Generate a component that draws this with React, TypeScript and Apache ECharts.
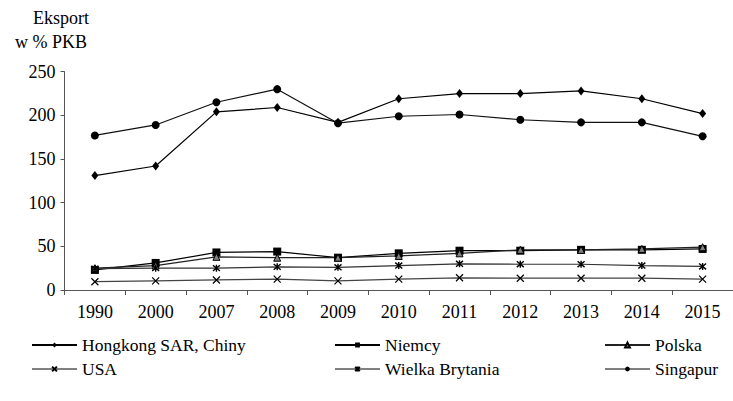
import React, { useEffect, useRef } from "react";
import * as echarts from "echarts";

const years = ["1990", "2000", "2007", "2008", "2009", "2010", "2011", "2012", "2013", "2014", "2015"];
const hongkong = [131, 142, 204, 209, 192, 219, 225, 225, 228, 219, 202];
const niemcy = [23, 31, 43, 44, 37, 42, 45, 45, 46, 46, 47];
const polska = [25, 28, 38, 37, 37, 39, 42, 46, 46, 47, 49];
const usa = [9.5, 10.5, 11.5, 12.5, 10.5, 12.5, 14, 13.5, 13.5, 13.5, 12.5];
const wielkaBrytania = [24.5, 25, 25, 26.5, 26, 28, 30, 29.5, 29.5, 28, 27];
const singapur = [177, 189, 215, 230, 191, 199, 201, 195, 192, 192, 176];
const yTicks = { min: 0, max: 250, interval: 50 };

const FONT = "Liberation Serif";
const AXIS_FS = 18;
const LEG_FS = 17.5;
const X_PATH = "path://M0,0L10,10M10,0L0,10";
const AST_PATH = "path://M0,0L10,10M10,0L0,10M5,-1L5,11";

export default function App() {
  const ref = useRef<HTMLDivElement>(null);
  useEffect(() => {
    if (!ref.current) return;
    const chart = echarts.init(ref.current, undefined, { renderer: "svg" });
    const mk = (name: string, data: number[], symbol: string, size: number | number[], item: any, lineColor: string) => ({
      name,
      type: "line",
      data,
      symbol,
      symbolSize: size,
      showAllSymbol: true,
      itemStyle: item,
      lineStyle: { color: lineColor, width: 1.2 },
      emphasis: { disabled: true },
    });
    const legendBase = {
      orient: "vertical",
      top: 331,
      itemGap: 6,
      itemWidth: 45,
      itemHeight: 6,
      textStyle: { fontFamily: FONT, fontSize: LEG_FS, color: "#000" },
      selectedMode: false,
    };
    const gray = { lineStyle: { color: "#808080" } };
    chart.setOption({
      animation: false,
      backgroundColor: "#fff",
      textStyle: { fontFamily: FONT },
      grid: { left: 64.5, top: 71.7, width: 673.5, height: 218.3 },
      graphic: [
        { type: "text", left: 33, top: 9, style: { text: "Eksport", fontFamily: FONT, fontSize: AXIS_FS, fill: "#000" } },
        { type: "text", left: 15, top: 33, style: { text: "w % PKB", fontFamily: FONT, fontSize: AXIS_FS, fill: "#000" } },
      ],
      legend: [
        { ...legendBase, left: 26, data: ["Hongkong SAR, Chiny", { name: "USA", ...gray }] },
        { ...legendBase, left: 329, data: ["Niemcy", { name: "Wielka Brytania", ...gray }] },
        { ...legendBase, left: 599, data: ["Polska", { name: "Singapur", ...gray }] },
      ],
      xAxis: {
        type: "category",
        data: years,
        boundaryGap: true,
        axisLine: { lineStyle: { color: "#555", width: 1 } },
        axisTick: { show: true, length: 5, lineStyle: { color: "#555" } },
        axisLabel: { color: "#000", fontFamily: FONT, fontSize: AXIS_FS, margin: 13 },
      },
      yAxis: {
        type: "value",
        min: yTicks.min,
        max: yTicks.max,
        interval: yTicks.interval,
        splitLine: { show: false },
        axisLine: { show: true, lineStyle: { color: "#555", width: 1 } },
        axisTick: { show: true, length: 4, lineStyle: { color: "#555" } },
        axisLabel: { color: "#000", fontFamily: FONT, fontSize: AXIS_FS, margin: 9 },
      },
      series: [
        mk("Hongkong SAR, Chiny", hongkong, "diamond", [7, 9], { color: "#000" }, "#000"),
        mk("Niemcy", niemcy, "rect", 8, { color: "#000" }, "#000"),
        mk("Polska", polska, "triangle", 7, { color: "#808080", borderColor: "#000", borderWidth: 1 }, "#222"),
        mk("USA", usa, X_PATH, 7, { color: "#000", borderColor: "#000", borderWidth: 1.2 }, "#444"),
        mk("Wielka Brytania", wielkaBrytania, AST_PATH, 7, { color: "#000", borderColor: "#000", borderWidth: 1.4 }, "#333"),
        mk("Singapur", singapur, "circle", 8, { color: "#000" }, "#111"),
      ],
    });
    return () => chart.dispose();
  }, []);
  return (
    <div
      ref={ref}
      style={{ position: "fixed", left: 0, top: 0, width: 733, height: 401, background: "#fff" }}
    />
  );
}
